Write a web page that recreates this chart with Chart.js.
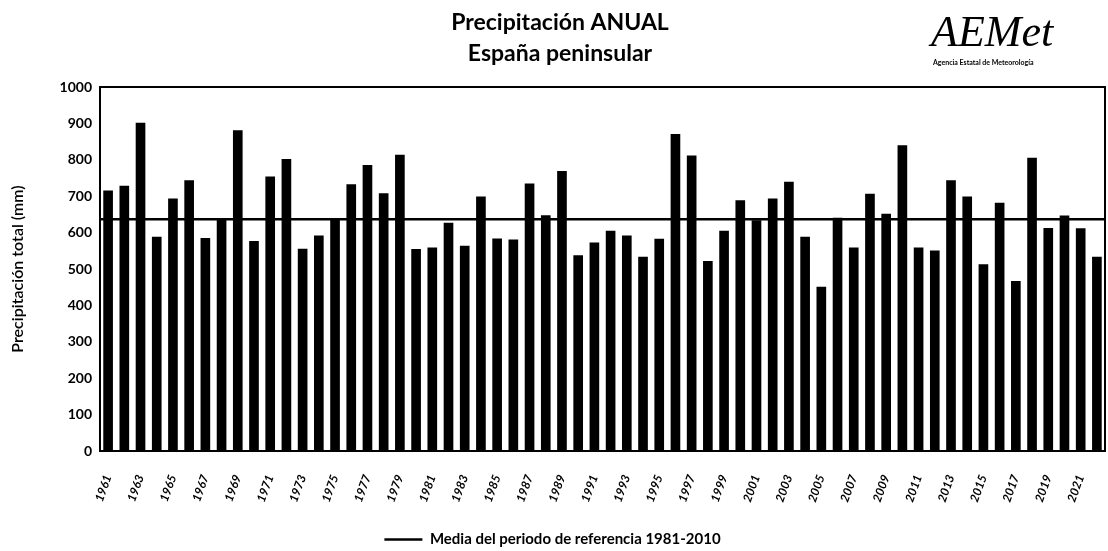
<!DOCTYPE html>
<html>
<head>
<meta charset="utf-8">
<script src="https://cdn.jsdelivr.net/npm/chart.js@4.4.0/dist/chart.umd.min.js"></script>
<style>
  html, body { margin: 0; padding: 0; background: #fff; }
  #wrap { width: 1108px; height: 551px; }
</style>
</head>
<body>
<div id="wrap"><canvas id="precip"></canvas></div>
<script>
/* ===== Datos: precipitación anual España peninsular (mm) ===== */
const anios = [];
for (let a = 1961; a <= 2022; a++) anios.push(String(a));

const precipitacion = [
  715, 728, 901, 588, 693, 743, 584, 638, 880, 576,
  753, 801, 555, 591, 636, 732, 785, 707, 813, 554,
  558, 626, 563, 698, 583, 580, 734, 647, 768, 537,
  572, 604, 591, 533, 582, 870, 811, 521, 604, 688,
  633, 693, 739, 588, 450, 640, 558, 706, 651, 839,
  558, 550, 743, 698, 512, 681, 466, 805, 612, 646,
  611, 533
];

const mediaRef = 637;            // media 1981-2010
const ticksY = [0, 100, 200, 300, 400, 500, 600, 700, 800, 900, 1000];

const fuente = 'Lato';

/* ===== Título, logo y marco ===== */
const decoracion = {
  id: 'decoracion',
  afterDraw(chart) {
    const { ctx, chartArea } = chart;
    ctx.save();
    // marco del área de gráfico
    ctx.strokeStyle = '#000';
    ctx.lineWidth = 2;
    ctx.strokeRect(chartArea.left, chartArea.top, chartArea.right - chartArea.left, chartArea.bottom - chartArea.top);

    // título
    ctx.fillStyle = '#000';
    ctx.textAlign = 'center';
    ctx.textBaseline = 'middle';
    ctx.font = 'bold 23px ' + fuente;
    ctx.fillText('Precipitación ANUAL', 560, 23);
    ctx.fillText('España peninsular', 560, 54);

    // logo AEMet
    ctx.textAlign = 'left';
    ctx.textBaseline = 'alphabetic';
    ctx.font = 'italic 44px "Liberation Serif"';
    ctx.fillText('AEMet', 931, 46);
    ctx.font = 'bold 7px ' + fuente;
    ctx.fillText('Agencia Estatal de Meteorología', 933, 65);
    ctx.restore();
  }
};

/* ===== Gráfico ===== */
const ctx1 = document.getElementById('precip');

new Chart(ctx1, {
  type: 'bar',
  data: {
    labels: anios,
    datasets: [
      {
        type: 'bar',
        label: 'Precipitación anual',
        xAxisID: 'x',
        yAxisID: 'y',
        data: precipitacion,
        backgroundColor: '#000',
        borderWidth: 0,
        grouped: false,
        barThickness: 9,
        order: 2
      },
      {
        type: 'line',
        label: 'Media del periodo de referencia 1981-2010',
        xAxisID: 'xm',
        yAxisID: 'y',
        data: [{ x: -0.5, y: mediaRef }, { x: anios.length - 0.5, y: mediaRef }],
        borderColor: '#000',
        backgroundColor: '#000',
        borderWidth: 2.5,
        pointRadius: 0,
        order: 1
      }
    ]
  },
  plugins: [decoracion],
  options: {
    responsive: true,
    maintainAspectRatio: false,
    animation: false,
    layout: { padding: { top: 87, right: 3, left: 0, bottom: -6 } },
    plugins: {
      title: { display: false },
      tooltip: { enabled: false },
      legend: {
        position: 'bottom',
        labels: {
          filter: item => item.datasetIndex === 1,
          usePointStyle: true,
          pointStyle: 'line',
          pointStyleWidth: 38,
          color: '#000',
          padding: 0,
          font: { family: fuente, size: 15, weight: 'bold' }
        }
      }
    },
    scales: {
      x: {
        type: 'category',
        offset: true,
        grid: { display: false, drawTicks: false },
        border: { display: false },
        afterFit: s => { s.height = 81; s.paddingLeft = 0; s.paddingRight = 0; },
        ticks: {
          autoSkip: false,
          maxRotation: 70,
          minRotation: 70,
          padding: 22,
          color: '#000',
          font: { family: fuente, size: 12, weight: 'bold', style: 'italic' },
          callback: (v, i) => (i % 2 === 0 ? anios[i] : '')
        }
      },
      xm: {
        type: 'linear',
        display: false,
        offset: false,
        grid: { offset: false },
        bounds: 'data',
        min: -0.5,
        max: anios.length - 0.5
      },
      y: {
        min: 0,
        max: 1000,
        afterFit: s => { s.width = 100; },
        afterBuildTicks: s => { s.ticks = ticksY.map(v => ({ value: v })); },
        grid: { display: false, drawTicks: false },
        border: { display: false },
        title: {
          display: true,
          text: 'Precipitación total (mm)',
          color: '#000',
          padding: { top: 8, bottom: 0 },
          font: { family: fuente, size: 16, weight: '600' }
        },
        ticks: {
          padding: 8,
          color: '#000',
          font: { family: fuente, size: 14, weight: 'bold' },
          callback: v => String(v)
        }
      }
    }
  }
});
</script>
</body>
</html>
